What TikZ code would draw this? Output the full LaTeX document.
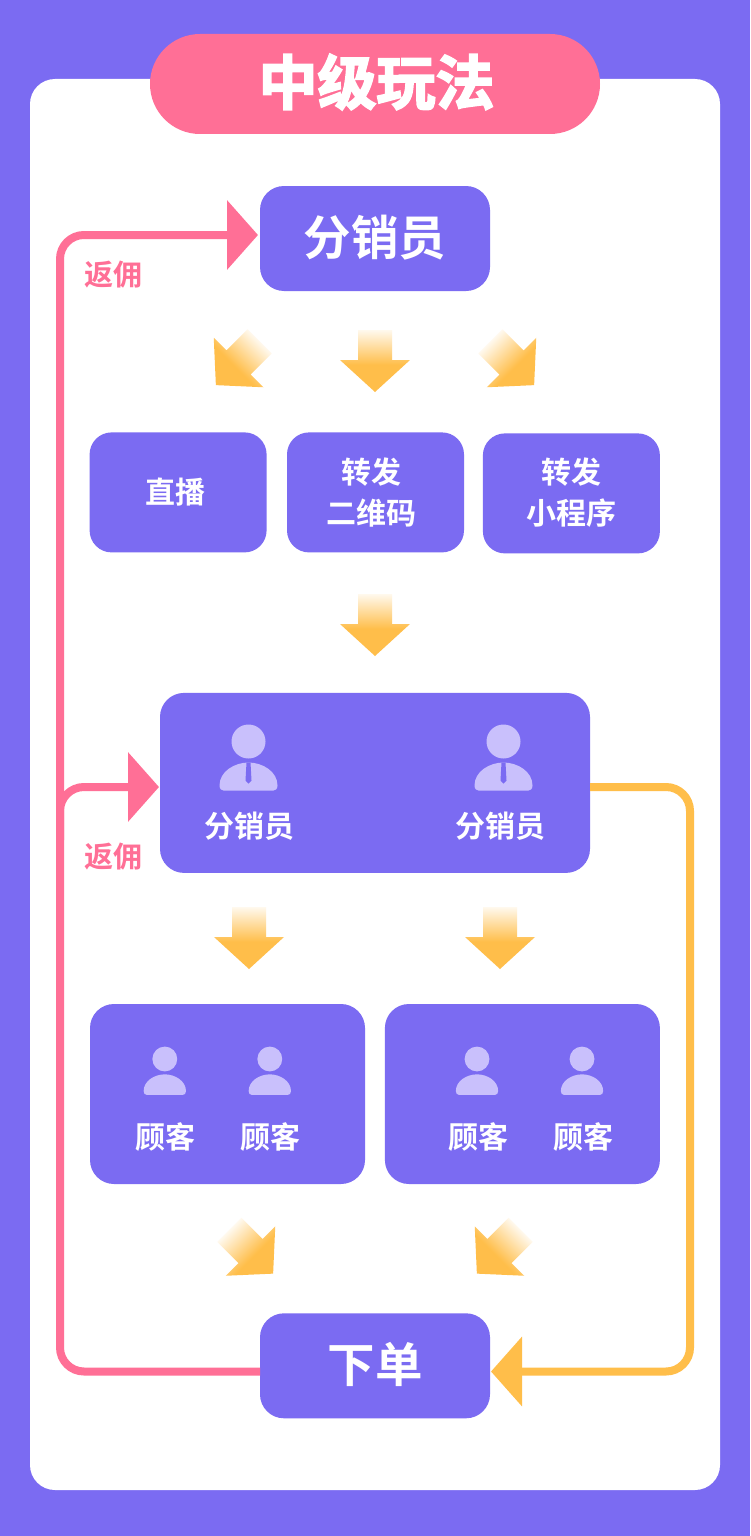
\documentclass[tikz,border=0pt]{standalone}
\usepackage{fontspec}
\usepackage{tikz}
\usetikzlibrary{arrows.meta}
\usetikzlibrary{positioning}
\setmainfont{Noto Sans CJK SC}[BoldFont={Noto Sans CJK SC Bold}]
\newfontfamily\cjkheavy{Noto Sans CJK SC Bold}[FakeBold=3]
\definecolor{bgviolet}{HTML}{7B6BF2}
\definecolor{railpink}{HTML}{FF6F96}
\definecolor{railorange}{HTML}{FFBE4A}
\definecolor{iconlilac}{HTML}{C9C0FC}
\pgfdeclareverticalshading{arrowfade}{100bp}{color(0bp)=(railorange); color(47bp)=(railorange); color(78bp)=(white); color(100bp)=(white)}
\pgfdeclareverticalshading{diagfade}{100bp}{color(0bp)=(railorange); color(40bp)=(railorange); color(74bp)=(white); color(100bp)=(white)}
\tikzset{box/.style={draw=none, fill=bgviolet, inner sep=0pt}}
\tikzset{bigbox/.style={box, rounded corners=24pt, minimum width=230pt, minimum height=105pt}}
\tikzset{midbox/.style={box, rounded corners=22pt, minimum width=177pt, minimum height=120pt}}
\tikzset{groupbox/.style={box, rounded corners=24pt, minimum width=275pt, minimum height=180pt}}
\tikzset{caption/.style={text=white, inner sep=0pt, align=center, font=\fontsize{30}{41}\selectfont\bfseries}}
\tikzset{bigcaption/.style={caption, font=\fontsize{47.5}{50}\selectfont\bfseries}}
\tikzset{rebate/.style={text=railpink, inner sep=0pt, font=\fontsize{29}{32}\selectfont\bfseries}}
\tikzset{rail/.style={line width=8pt, rounded corners=24pt, -{Triangle[length=31pt,width=68pt]}}}
\tikzset{
    person/.pic={
            \fill[iconlilac] (0,0) circle (17pt);
            \fill[iconlilac] (-29,44) .. controls (-29,30) and (-14,21) .. (0,21)
            .. controls (14,21) and (29,30) .. (29,44)
            .. controls (29,47.5) and (27,49) .. (25,49) -- (-25,49)
            .. controls (-27,49) and (-29,47.5) .. (-29,44) -- cycle;
        },
    seller/.pic={
            \pic {person};
            \fill[bgviolet] (-2,21) -- (2,21) -- (3,39) -- (0,42) -- (-3,39) -- cycle;
        },
    fadearrow/.pic={
            \shade[shading=arrowfade] (-17,-30) -- (17,-30) -- (17,0) -- (35,0)
            -- (0,32) -- (-35,0) -- (-17,0) -- cycle;
        },
    fadediag/.pic={
            \shade[shading=diagfade, shading angle=#1, rotate=#1] (-17,-30) -- (17,-30) -- (17,0) -- (35,0)
            -- (0,32) -- (-35,0) -- (-17,0) -- cycle;
        }
}
\begin{document}
\begin{tikzpicture}[x=1pt, y=-1pt]
    \useasboundingbox (0,0) rectangle (750,1536);
    \fill[bgviolet] (0,0) rectangle (750,1536);
    \fill[white, rounded corners=25pt] (30,79) rectangle (720,1490);
    \node[box, rounded corners=50pt, minimum width=450pt, minimum height=100pt, fill=railpink] (title) at (375,84) {};
    \node[caption, font=\fontsize{59}{60}\selectfont\cjkheavy] (titletext) at (376.5,82) {中级玩法};

    \node[bigbox] (top) at (375,238.5) {};
    \node[midbox, below=141pt of top, xshift=.5pt] (qrcode) {};
    \node[midbox, left=20pt of qrcode] (live) {};
    \node[midbox, right=18.5pt of qrcode, yshift=-1pt] (miniapp) {};
    \node[box, rounded corners=24pt, minimum width=430pt, minimum height=180pt, below=140.5pt of top, yshift=-261pt] (sellers) {};
    \node[groupbox] (custa) at (227.5,1094) {};
    \node[groupbox, right=19.5pt of custa] (custb) {};
    \node[bigbox, below=440pt of sellers] (order) {};

    % box texts
    \node[bigcaption] (toplabel) at (375,238) {分销员};
    \node[caption] (livelabel) at (175,492) {直播};
    \node[caption] (qrlabel) at (371.5,492.5) {转发\\二维码};
    \node[caption] (minilabel) at (571.5,493) {转发\\小程序};
    \node[bigcaption] (orderlabel) at (375,1364) {下单};

    % people
    \pic (sellera) at (248.5,741.5) {seller};
    \pic (sellerb) at (503.5,741.5) {seller};
    \node[caption] (sellerlabela) at (249,826) {分销员};
    \node[caption] (sellerlabelb) at (500,826) {分销员};
    \pic[scale=.73] (clienta) at (164.8,1059) {person};
    \pic[scale=.73] (clientb) at (269.8,1059) {person};
    \pic[scale=.73] (clientc) at (477,1059) {person};
    \pic[scale=.73] (clientd) at (582,1059) {person};
    \node[caption] (clientlabela) at (165,1137) {顾客};
    \node[caption] (clientlabelb) at (270,1137) {顾客};
    \node[caption] (clientlabelc) at (478,1137) {顾客};
    \node[caption] (clientlabeld) at (583,1137) {顾客};

    % block arrows
    \pic (flowa) at (238.5,362.5) {fadediag=-45};
    \pic (flowb) at (375,360) {fadearrow};
    \pic (flowc) at (511.5,362.5) {fadediag=45};
    \pic (flowd) at (375,624) {fadearrow};
    \pic (flowe) at (249,937) {fadearrow};
    \pic (flowf) at (500,937) {fadearrow};
    \pic (flowg) at (250.5,1251) {fadediag=45};
    \pic (flowh) at (499.5,1251) {fadediag=-45};

    % connectors
    \coordinate (topin) at (258,235);
    \coordinate (orderout) at (260,1371.5);
    \coordinate (orderin) at (491,1371.5);
    \coordinate (sellersin) at (159,787);
    \coordinate (sellersout) at (590,787);
    \coordinate (railleft) at (60,800);
    \coordinate (railright) at (690,1000);
    \coordinate (branchfoot) at (60,840);
    \draw[rail, railpink] (orderout) -| (railleft) |- (topin);
    \draw[rail, railpink] (branchfoot) |- (sellersin);
    \draw[rail, railorange] (sellersout) -| (railright) |- (orderin);
    \node[rebate] (rebatea) at (113.5,275) {返佣};
    \node[rebate] (rebateb) at (113.5,857) {返佣};
\end{tikzpicture}
\end{document}
